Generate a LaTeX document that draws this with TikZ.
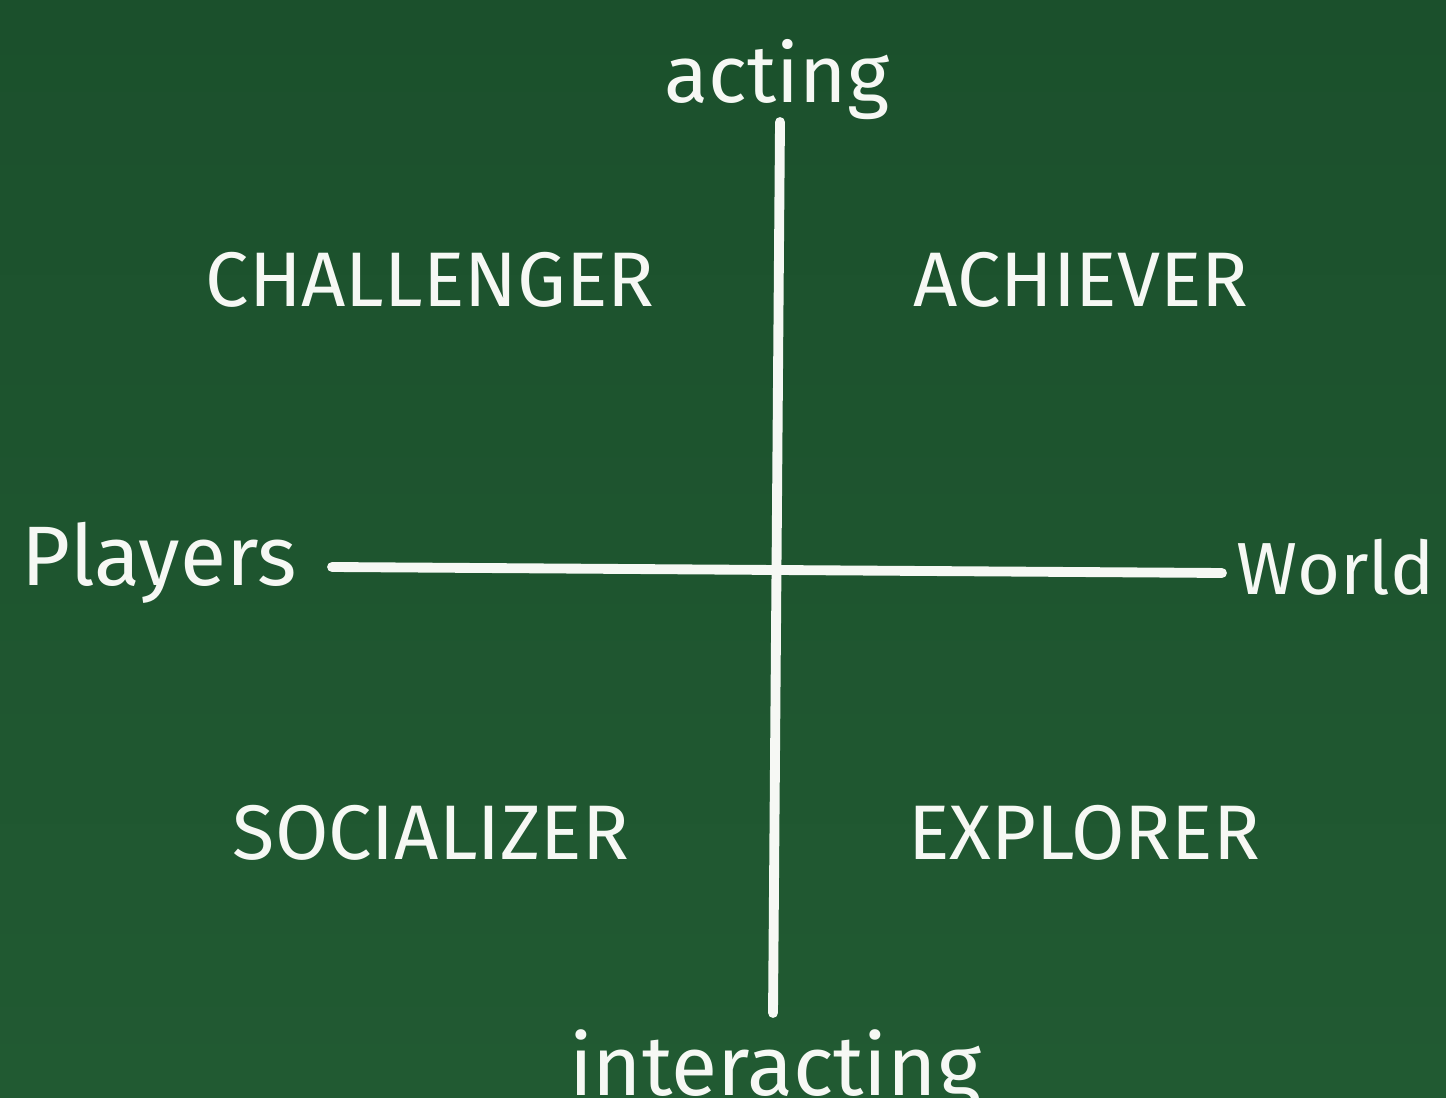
\documentclass[tikz,border=0pt]{standalone}
\usepackage{fontspec}
\setmainfont{Fira Sans}
\usepackage{xcolor}
\usepackage{tikz}
\usetikzlibrary{positioning}
\definecolor{quadroTopo}{RGB}{27,80,44}
\definecolor{quadroBase}{RGB}{33,90,50}
\definecolor{giz}{RGB}{246,248,244}
\tikzset{
    rotulo/.style={
        text=giz,
        inner sep=2pt,
        font=\fontsize{23}{26}\selectfont
    },
    tipo/.style={rotulo, font=\fontsize{22}{26}\selectfont},
    eixo/.style={rotulo, font=\fontsize{24}{28}\selectfont},
    traco/.style={draw=giz, line width=2.8pt, line cap=round}
}

\begin{document}
\begin{tikzpicture}[x=0.01cm, y=-0.01cm]
        \shade[top color=quadroTopo, bottom color=quadroBase]
            (0,0) rectangle (1446,1098);
        \useasboundingbox (0,0) rectangle (1446,1098);

        \node[rotulo] (acting) at (777,80) {acting};
        \node[rotulo, font=\fontsize{24}{28}\selectfont] (interacting)
            at (775,1072) {interacting};
        \node[eixo, anchor=west] (players) at (14,563) {Players};
        \node[eixo, font=\fontsize{21}{25}\selectfont, anchor=east]
            (world) at (1442,567) {World};

        \node[tipo] (challenger) at (430,280) {CHALLENGER};
        \node[tipo] (achiever) at (1081,280) {ACHIEVER};
        \node[tipo] (socializer) at (431,833) {SOCIALIZER};
        \node[tipo] (explorer) at (1084,833) {EXPLORER};

        \coordinate (topo) at (780,122);
        \coordinate (base) at (773,1013);
        \coordinate (esq) at (332,567);
        \coordinate (dir) at (1222,573);

        \draw[traco] (topo) -- (base);
        \draw[traco] (esq) -- (dir);
\end{tikzpicture}
\end{document}
